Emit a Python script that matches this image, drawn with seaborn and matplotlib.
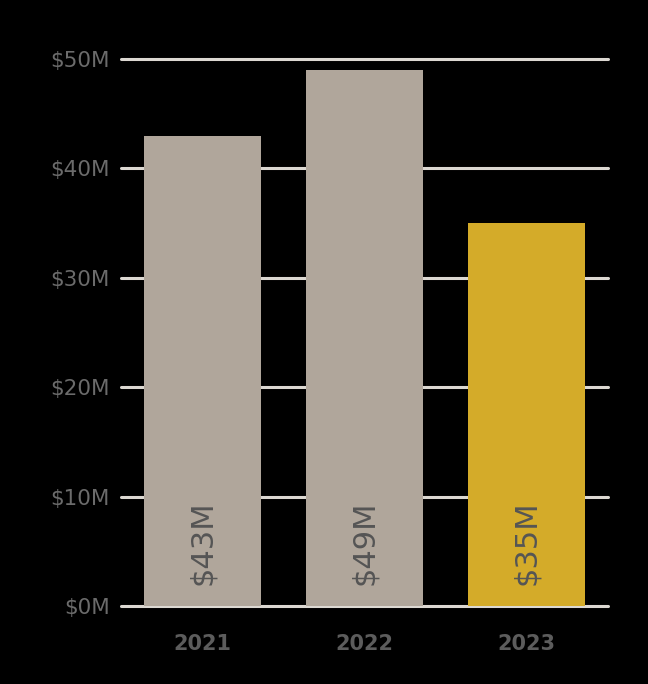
import pandas as pd
import matplotlib.pyplot as plt
import seaborn as sns

# Data
years = ['2021', '2022', '2023']
sales = [43, 49, 35]  # millions of dollars
bar_labels = ['$43M', '$49M', '$35M']
bar_colors = ['#b0a69b', '#b0a69b', '#d4ab29']
yticks = [0, 10, 20, 30, 40, 50]
ytick_labels = ['$0M', '$10M', '$20M', '$30M', '$40M', '$50M']

df = pd.DataFrame({'Year': years, 'Sales': sales})

sns.set_style('white')
plt.rcParams['font.family'] = ['DejaVu Sans']

fig = plt.figure(figsize=(6.48, 6.84), dpi=100, facecolor='black')
ax = fig.add_axes([0.1867, 0.114, 0.7515, 0.7997])
ax.set_facecolor('black')

sns.barplot(x='Year', y='Sales', data=df, hue='Year', palette=bar_colors,
            legend=False, width=0.72, saturation=1, ax=ax, zorder=2,
            edgecolor='none', linewidth=0)

# Gridlines behind bars
for y in yticks:
    ax.axhline(y, color='#dcd8d2', linewidth=2.2, zorder=1, clip_on=False)

# Value labels inside bars
for i, lab in enumerate(bar_labels):
    ax.text(i, 1.9, lab, rotation=90, ha='center', va='bottom',
            fontsize=22, color='#555555', zorder=3)

ax.set_xlim(-0.5, 2.5)
ax.set_ylim(0, 50)
ax.set_yticks(yticks)
ax.set_yticklabels(ytick_labels)
ax.set_xlabel('')
ax.set_ylabel('')
ax.tick_params(axis='y', length=0, pad=8, labelsize=15.5, labelcolor='#6b6b6b')
ax.tick_params(axis='x', length=0, pad=20, labelsize=15, labelcolor='#5c5c5c')
for t in ax.get_xticklabels():
    t.set_fontweight('bold')
sns.despine(ax=ax, left=True, bottom=True)

fig.savefig('out.png', dpi=100, facecolor='black')
